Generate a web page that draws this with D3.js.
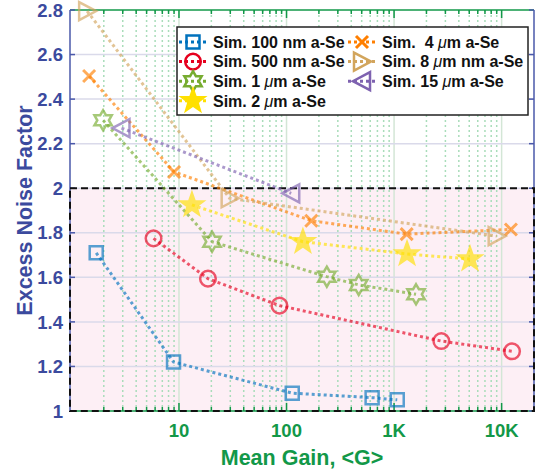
<!DOCTYPE html>
<html>
<head>
<meta charset="utf-8">
<script src="https://cdn.jsdelivr.net/npm/d3@7"></script>
<style>
  body { margin: 0; background: #fff; }
  svg { font-family: "Liberation Sans", Arial, sans-serif; font-weight: bold; }
</style>
</head>
<body>
<div id="chart"></div>
<script>
// data (gain, excess noise factor)
const gain100nm = [1.7, 8.9, 113, 625, 1070];
const enf100nm  = [1.71, 1.22, 1.08, 1.06, 1.05];
const gain500nm = [5.8, 18.6, 86, 2750, 12500];
const enf500nm  = [1.775, 1.594, 1.473, 1.314, 1.268];
const gain1um = [1.97, 20.3, 237, 469, 1600];
const enf1um  = [2.305, 1.76, 1.603, 1.566, 1.524];
const gain2um = [13.2, 142, 1320, 5080];
const enf2um  = [1.925, 1.76, 1.705, 1.682];
const gain4um = [1.46, 9.0, 170, 1310, 12200];
const enf4um  = [2.504, 2.073, 1.854, 1.794, 1.815];
const gain8um = [1.4, 29.6, 9000];
const enf8um  = [2.795, 1.955, 1.785];
const gain15um = [2.92, 110.6];
const enf15um  = [2.27, 1.977];

const yTicks = [1, 1.2, 1.4, 1.6, 1.8, 2, 2.2, 2.4, 2.6, 2.8];
const xTicks = [10, 100, 1000, 10000];
const xTickLabels = ["10", "100", "1K", "10K"];

const series = [
  {name: ["Sim. 100 nm a-Se"], g: gain100nm, f: enf100nm, color: "#0072BD", shape: "square", fill: false},
  {name: ["Sim. 500 nm a-Se"], g: gain500nm, f: enf500nm, color: "#E6001E", shape: "circle", fill: false},
  {name: ["Sim. 1 ", "\u03bc", "m a-Se"], g: gain1um, f: enf1um, color: "#77AC30", shape: "hexagram", fill: false},
  {name: ["Sim. 2 ", "\u03bc", "m a-Se"], g: gain2um, f: enf2um, color: "#FFE000", shape: "pentagram", fill: true},
  {name: ["Sim.  4 ", "\u03bc", "m a-Se"], g: gain4um, f: enf4um, color: "#FF7F00", shape: "x", fill: false},
  {name: ["Sim. 8 ", "\u03bc", "m nm a-Se"], g: gain8um, f: enf8um, color: "#D2A55C", shape: "triright", fill: false},
  {name: ["Sim. 15 ", "\u03bc", "m a-Se"], g: gain15um, f: enf15um, color: "#7E62B0", shape: "trileft", fill: false}
];

const W = 535, H = 476;
const pLeft = 70, pRight = 534, pTop = 10, pBottom = 411;
const blue = "#3B4A9E", green = "#129848";

const svg = d3.select("#chart").append("svg").attr("width", W).attr("height", H);

const x = d3.scaleLog().domain([0.97, 20000]).range([pLeft, pRight]);
const y = d3.scaleLinear().domain([1, 2.8]).range([pBottom, pTop]);

// pink region below ENF = 2
svg.append("rect")
  .attr("x", pLeft).attr("y", y(2))
  .attr("width", pRight - pLeft).attr("height", y(1) - y(2))
  .attr("fill", "#FDEFF5");

// minor vertical grid
const minor = [];
[1, 10, 100, 1000, 10000].forEach(d => {
  for (let k = 2; k <= 9; k++) { const v = d * k; if (v < 20000) minor.push(v); }
});
svg.append("g").selectAll("line").data(minor).enter().append("line")
  .attr("x1", d => x(d)).attr("x2", d => x(d))
  .attr("y1", pTop).attr("y2", pBottom)
  .attr("stroke", "#A9DDBA").attr("stroke-width", 1.5)
  .attr("stroke-dasharray", "2,3");

// major vertical grid
svg.append("g").selectAll("line").data(xTicks).enter().append("line")
  .attr("x1", d => x(d)).attr("x2", d => x(d))
  .attr("y1", pTop).attr("y2", pBottom)
  .attr("stroke", "#D3E6D6").attr("stroke-width", 1.5);

// horizontal grid
svg.append("g").selectAll("line").data(yTicks.slice(1, -1)).enter().append("line")
  .attr("x1", pLeft).attr("x2", pRight)
  .attr("y1", d => y(d)).attr("y2", d => y(d))
  .attr("stroke", "#DADAEA").attr("stroke-width", 1.5);

// axis box
svg.append("line").attr("x1", pLeft).attr("x2", pRight).attr("y1", pTop).attr("y2", pTop)
  .attr("stroke", green).attr("stroke-width", 1.5);
svg.append("line").attr("x1", pLeft).attr("x2", pRight).attr("y1", pBottom).attr("y2", pBottom)
  .attr("stroke", green).attr("stroke-width", 1.5);
[pLeft, pRight].forEach(px => {
  svg.append("line").attr("x1", px).attr("x2", px).attr("y1", pTop).attr("y2", pBottom)
    .attr("stroke", "#4A58AA").attr("stroke-width", 1.5);
});

// ticks
const tk = svg.append("g");
yTicks.forEach(v => {
  tk.append("line").attr("x1", pLeft).attr("x2", pLeft + 5).attr("y1", y(v)).attr("y2", y(v))
    .attr("stroke", "#4A58AA").attr("stroke-width", 1.5);
  tk.append("line").attr("x1", pRight).attr("x2", pRight - 5).attr("y1", y(v)).attr("y2", y(v))
    .attr("stroke", "#4A58AA").attr("stroke-width", 1.5);
});
minor.concat(xTicks).forEach(v => {
  const len = xTicks.includes(v) ? 8 : 4;
  tk.append("line").attr("x1", x(v)).attr("x2", x(v)).attr("y1", pTop).attr("y2", pTop + len)
    .attr("stroke", green).attr("stroke-width", 1.5);
  tk.append("line").attr("x1", x(v)).attr("x2", x(v)).attr("y1", pBottom).attr("y2", pBottom - len)
    .attr("stroke", green).attr("stroke-width", 1.5);
});

// dashed black border of the pink region
svg.append("rect")
  .attr("x", pLeft).attr("y", y(2))
  .attr("width", pRight - pLeft).attr("height", y(1) - y(2))
  .attr("fill", "none").attr("stroke", "#111").attr("stroke-width", 2)
  .attr("stroke-dasharray", "7,4");

// tick labels
svg.append("g").selectAll("text").data(yTicks).enter().append("text")
  .attr("x", pLeft - 7).attr("y", d => y(d)).attr("dy", "0.36em")
  .attr("text-anchor", "end").attr("fill", blue).attr("font-size", 18.5)
  .text(d => d3.format("~g")(d));
svg.append("g").selectAll("text").data(xTicks).enter().append("text")
  .attr("x", d => x(d)).attr("y", 437)
  .attr("text-anchor", "middle").attr("fill", green).attr("font-size", 18.5)
  .text((d, i) => xTickLabels[i]);

// axis titles
svg.append("text")
  .attr("transform", `translate(32,${(pTop + pBottom) / 2}) rotate(-90)`)
  .attr("text-anchor", "middle").attr("fill", blue).attr("font-size", 21.5)
  .text("Excess Noise Factor");
svg.append("text")
  .attr("x", (pLeft + pRight) / 2).attr("y", 465)
  .attr("text-anchor", "middle").attr("fill", green).attr("font-size", 21.5)
  .text("Mean Gain, <G>");

// marker shapes
function starPath(n, R, r) {
  const pts = [];
  for (let i = 0; i < 2 * n; i++) {
    const a = -Math.PI / 2 + i * Math.PI / n;
    const rr = i % 2 === 0 ? R : r;
    pts.push([rr * Math.cos(a), rr * Math.sin(a)]);
  }
  return "M" + pts.map(p => p.join(",")).join("L") + "Z";
}
function shapePath(s) {
  switch (s) {
    case "square": return "M-6.5,-6.5H6.5V6.5H-6.5Z";
    case "circle": return "M7.8,0A7.8,7.8 0 1,1 -7.8,0A7.8,7.8 0 1,1 7.8,0Z";
    case "hexagram": return starPath(6, 10, 5.8);
    case "pentagram": return starPath(5, 11.5, 4.6);
    case "x": return "M-6,-6L6,6M-6,6L6,-6";
    case "triright": return "M-8,-9L9,0L-8,9Z";
    case "trileft": return "M8,-9L-9,0L8,9Z";
  }
}

const line = d3.line().x(d => x(d[0])).y(d => y(d[1]));

// series lines and markers
series.forEach(s => {
  const pts = s.g.map((g, i) => [g, s.f[i]]);
  svg.append("path").datum(pts)
    .attr("d", line).attr("fill", "none")
    .attr("stroke", s.color).attr("stroke-opacity", 0.65)
    .attr("stroke-width", 3).attr("stroke-dasharray", "3,3");
});
series.forEach(s => {
  const pts = s.g.map((g, i) => [g, s.f[i]]);
  svg.append("g").selectAll("path").data(pts).enter().append("path")
    .attr("transform", d => `translate(${x(d[0])},${y(d[1])})`)
    .attr("d", shapePath(s.shape))
    .attr("fill", s.fill ? s.color : "none")
    .attr("stroke", s.color).attr("stroke-width", s.shape === "x" ? 3 : 2.5)
    .attr("opacity", 0.65);
});

// legend
const lg = svg.append("g");
lg.append("rect").attr("x", 177).attr("y", 27).attr("width", 351).attr("height", 88)
  .attr("fill", "#fff").attr("stroke", "#222").attr("stroke-width", 1.5);
series.forEach((s, i) => {
  const col = i < 4 ? 0 : 1;
  const row = i < 4 ? i : i - 4;
  const x0 = col === 0 ? 179 : 348;
  const cy = 42 + row * 19.6;
  const mx = x0 + 14;
  lg.append("line").attr("x1", x0).attr("x2", x0 + 30).attr("y1", cy).attr("y2", cy)
    .attr("stroke", s.color).attr("stroke-width", 3).attr("stroke-dasharray", "3,3");
  lg.append("path").attr("transform", `translate(${mx},${cy})`)
    .attr("d", shapePath(s.shape))
    .attr("fill", s.fill ? s.color : "none")
    .attr("stroke", s.color).attr("stroke-width", s.shape === "x" ? 3 : 2.5);
  const t = lg.append("text").attr("x", x0 + 34).attr("y", cy).attr("dy", "0.36em")
    .attr("font-size", 16).attr("fill", "#111").style("white-space", "pre");
  s.name.forEach((part, k) => {
    const ts = t.append("tspan").text(part);
    if (part === "\u03bc") ts.attr("font-style", "italic").attr("font-weight", "normal");
  });
});
</script>
</body>
</html>
